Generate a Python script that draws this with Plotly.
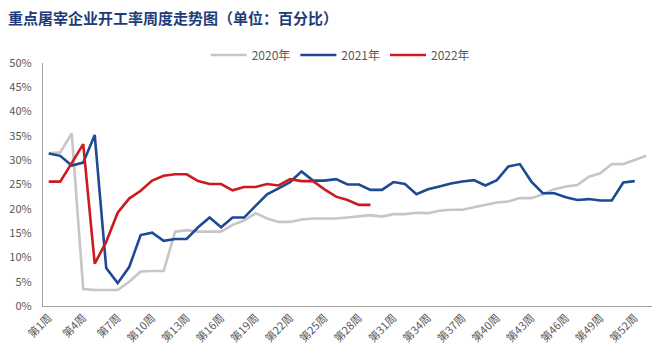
import plotly.graph_objects as go

weeks = [f"第{i}周" for i in range(1, 54)]
tick_labels = [f"第{i}周" for i in range(1, 54, 3)]

y2020 = [31.4, 31.6, 35.5, 3.5, 3.3, 3.3, 3.3, 5.0, 7.1, 7.2, 7.2, 15.3, 15.6, 15.3, 15.3,
         15.3, 16.7, 17.6, 19.1, 18.0, 17.3, 17.3, 17.8, 18.0, 18.0, 18.0, 18.2, 18.4, 18.7,
         18.4, 18.9, 18.9, 19.2, 19.1, 19.6, 19.8, 19.8, 20.3, 20.8, 21.3, 21.5, 22.2, 22.2,
         23.0, 24.0, 24.6, 24.9, 26.6, 27.3, 29.2, 29.2, 30.0, 30.9]
y2021 = [31.4, 30.9, 28.9, 29.5, 35.2, 7.8, 4.7, 8.0, 14.6, 15.1, 13.4, 13.8, 13.8, 16.2,
         18.2, 16.2, 18.2, 18.2, 20.6, 23.0, 24.2, 25.5, 27.7, 25.8, 25.8, 26.1, 25.0, 25.0,
         23.9, 23.9, 25.5, 25.1, 23.0, 24.0, 24.6, 25.2, 25.6, 25.9, 24.8, 25.9, 28.7, 29.2,
         25.6, 23.2, 23.2, 22.4, 21.8, 22.0, 21.7, 21.7, 25.4, 25.7]
y2022 = [25.6, 25.6, 29.4, 33.3, 8.7, 13.2, 19.2, 22.1, 23.7, 25.8, 26.8, 27.1, 27.1, 25.7,
         25.1, 25.1, 23.8, 24.5, 24.5, 25.1, 24.8, 26.1, 25.7, 25.7, 24.0, 22.5, 21.8, 20.8, 20.8]

series = [("2020年", y2020, "#c6c6c6"), ("2021年", y2021, "#1c4b93"), ("2022年", y2022, "#cc1a1f")]

fig = go.Figure()
for name, ys, color in series:
    fig.add_trace(go.Scatter(x=weeks[:len(ys)], y=ys, name=name, mode="lines",
                             line=dict(color=color, width=2.6)))

font_fam = "Noto Sans CJK SC, Microsoft YaHei, sans-serif"
fig.update_layout(
    width=666, height=361,
    margin=dict(l=35, r=22, t=55, b=63),
    paper_bgcolor="white", plot_bgcolor="white",
    font=dict(family=font_fam, size=11, color="#595959"),
    title=dict(text="<b>重点屠宰企业开工率周度走势图（单位：百分比）</b>",
               x=0.0, xanchor="left", y=0.97, yanchor="middle",
               font=dict(family=font_fam, size=15, color="#1f3c78")),
    legend=dict(orientation="h", x=0.488, xanchor="center", y=1.033, yanchor="middle",
                font=dict(size=12, color="#595959"), itemwidth=36, tracegroupgap=0),
    showlegend=True,
)
fig.update_xaxes(type="category", categoryorder="array", categoryarray=weeks,
                 tickmode="array", tickvals=tick_labels, ticktext=tick_labels,
                 tickangle=-45, showgrid=False, showline=True, linecolor="#a0a0a0",
                 linewidth=1.3, ticks="", range=[-0.5, 52.5], automargin=False,
                 tickfont=dict(size=11, color="#595959"))
fig.update_yaxes(range=[0, 50], dtick=5, ticksuffix="%", showgrid=False, showline=True,
                 linecolor="#a0a0a0", linewidth=1.3, ticks="", zeroline=False,
                 automargin=False, ticklabelstandoff=8,
                 tickfont=dict(size=11, color="#595959"))

fig.write_html("out.html")
